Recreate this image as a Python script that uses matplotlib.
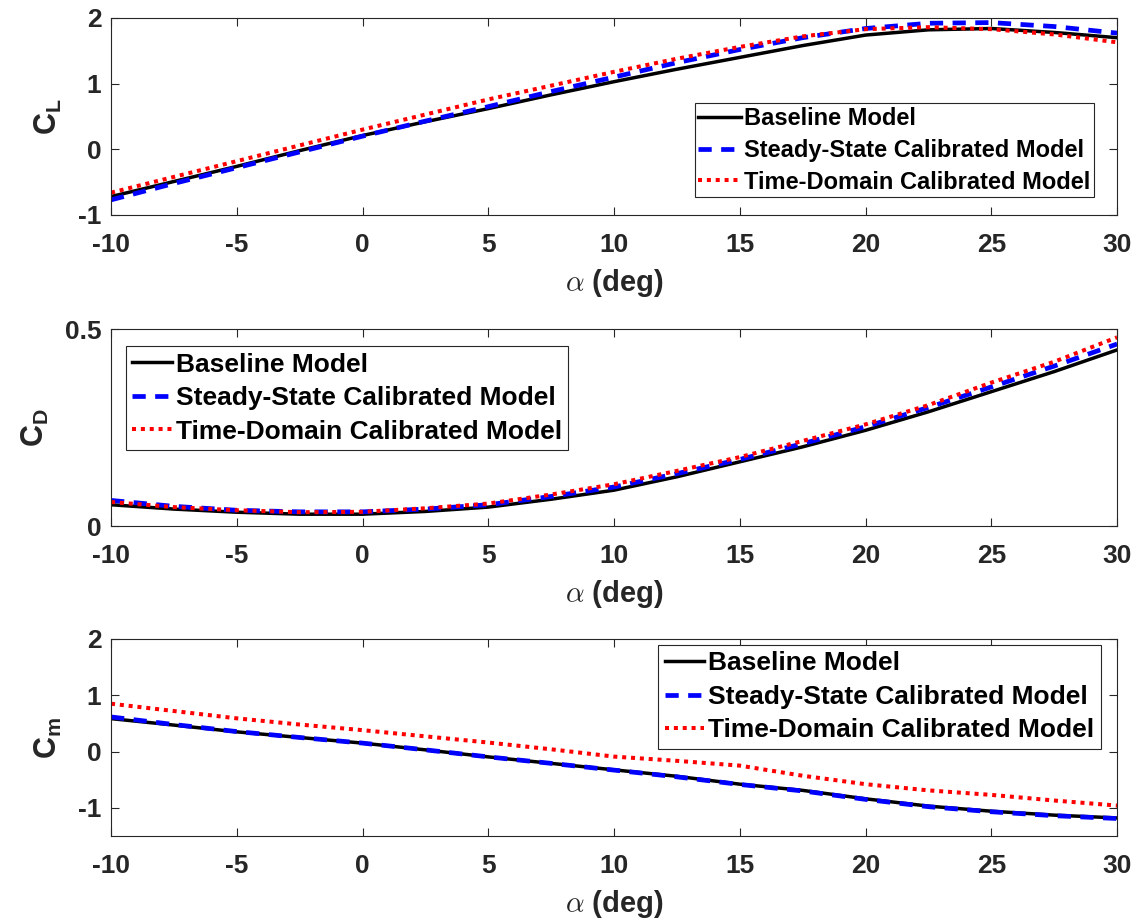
import numpy as np
import matplotlib.pyplot as plt

plt.rcParams['font.family'] = 'Liberation Sans'
plt.rcParams['font.weight'] = 'bold'
plt.rcParams['axes.labelweight'] = 'bold'
plt.rcParams['mathtext.fontset'] = 'custom'
plt.rcParams['mathtext.rm'] = 'Liberation Sans:bold'
plt.rcParams['mathtext.bf'] = 'Liberation Sans:bold'
plt.rcParams['axes.unicode_minus'] = False

alpha = [-10, -7.5, -5, -2.5, 0, 2.5, 5, 7.5, 10, 12.5, 15, 17.5, 20, 22.5, 25, 27.5, 30]

# lift coefficient
cl_base = [-0.72, -0.49, -0.26, -0.02, 0.21, 0.42, 0.62, 0.83, 1.03, 1.22, 1.40, 1.58, 1.74, 1.82, 1.84, 1.78, 1.70]
cl_ss = [-0.77, -0.52, -0.28, -0.04, 0.20, 0.43, 0.65, 0.88, 1.10, 1.32, 1.52, 1.70, 1.84, 1.92, 1.93, 1.87, 1.77]
cl_td = [-0.66, -0.42, -0.18, 0.06, 0.30, 0.53, 0.76, 0.97, 1.18, 1.38, 1.56, 1.72, 1.83, 1.86, 1.83, 1.75, 1.63]

# drag coefficient
cd_base = [0.054, 0.043, 0.035, 0.030, 0.030, 0.037, 0.048, 0.068, 0.091, 0.125, 0.163, 0.201, 0.243, 0.290, 0.341, 0.392, 0.447]
cd_ss = [0.065, 0.050, 0.040, 0.036, 0.036, 0.043, 0.054, 0.075, 0.099, 0.133, 0.169, 0.209, 0.252, 0.301, 0.353, 0.406, 0.462]
cd_td = [0.061, 0.048, 0.040, 0.035, 0.036, 0.045, 0.057, 0.080, 0.106, 0.140, 0.175, 0.216, 0.258, 0.307, 0.364, 0.417, 0.479]

# pitching moment coefficient
cm_base = [0.585, 0.47, 0.35, 0.25, 0.15, 0.03, -0.095, -0.21, -0.325, -0.44, -0.58, -0.69, -0.84, -0.97, -1.06, -1.13, -1.18]
cm_ss = [0.615, 0.48, 0.355, 0.25, 0.15, 0.03, -0.095, -0.21, -0.33, -0.45, -0.585, -0.70, -0.85, -0.98, -1.07, -1.14, -1.19]
cm_td = [0.85, 0.72, 0.59, 0.48, 0.38, 0.27, 0.16, 0.04, -0.09, -0.165, -0.25, -0.43, -0.58, -0.69, -0.77, -0.87, -0.96]

names = ['Baseline Model', 'Steady-State Calibrated Model', 'Time-Domain Calibrated Model']

# ylabel, series, ylim, yticks, legend (loc, anchor, fontsize, spacing, pad, handle length)
panels = [
    ('C$_\\mathbf{L}$', cl_base, cl_ss, cl_td, (-1, 2), [-1, 0, 1, 2], ['-1', '0', '1', '2'],
     ('lower right', (0.977, 0.091), 17, 0.37, 0.15, 1.8)),
    ('C$_\\mathbf{D}$', cd_base, cd_ss, cd_td, (0, 0.5), [0, 0.5], ['0', '0.5'],
     ('upper left', (0.0144, 0.914), 19, 0.36, 0.25, 1.5)),
    ('C$_\\mathbf{m}$', cm_base, cm_ss, cm_td, (-1.5, 2), [-1, 0, 1, 2], ['-1', '0', '1', '2'],
     ('upper right', (0.984, 0.970), 19, 0.36, 0.25, 1.5)),
]
boxes = [[0.0974, 0.7671, 0.8825, 0.2134],
         [0.0974, 0.4301, 0.8825, 0.2134],
         [0.0974, 0.0943, 0.8825, 0.2134]]

fig = plt.figure(figsize=(11.4, 9.23), dpi=100)
grey = '#262626'
for (ylab, yb, ys, yt, ylim, yt_pos, yt_lab, lg), box in zip(panels, boxes):
    ax = fig.add_axes(box)
    ax.plot(alpha, yb, color='black', lw=2.5, label=names[0])
    ax.plot(alpha, ys, color='blue', lw=3.4, dashes=(2.8, 2.0), label=names[1])
    ax.plot(alpha, yt, color='red', lw=2.9, dashes=(1.0, 1.2), label=names[2])
    ax.set_xlim(-10, 30)
    ax.set_ylim(*ylim)
    ax.set_xticks(range(-10, 31, 5))
    ax.set_yticks(yt_pos)
    ax.set_yticklabels(yt_lab)
    ax.tick_params(direction='in', top=True, right=True, length=6, width=0.8,
                   labelsize=19, colors=grey)
    ax.tick_params(axis='x', pad=13)
    ax.tick_params(axis='y', pad=7)
    for s in ax.spines.values():
        s.set_color(grey)
        s.set_linewidth(0.8)
    ax.set_xlabel('$\\alpha$ (deg)', fontsize=21, color=grey,
                  labelpad=7, math_fontfamily='cm')
    ax.set_ylabel(ylab, fontsize=22, color=grey, labelpad=10)
    loc, anchor, fs, spacing, pad, hl = lg
    leg = ax.legend(loc=loc, bbox_to_anchor=anchor, fontsize=fs, frameon=True,
                    fancybox=False, edgecolor=grey, framealpha=1, handlelength=hl,
                    handletextpad=0.15, borderpad=pad, labelspacing=spacing,
                    borderaxespad=0)
    leg.get_frame().set_linewidth(0.8)

fig.savefig('out.png', dpi=100)
